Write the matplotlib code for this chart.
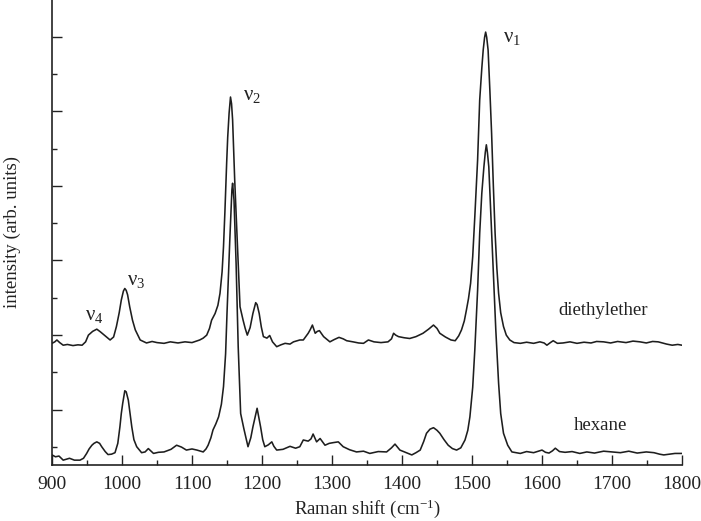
import numpy as np
import matplotlib.pyplot as plt

plt.rcParams['font.family'] = ['Liberation Serif', 'DejaVu Serif']
plt.rcParams['mathtext.fontset'] = 'custom'
plt.rcParams['mathtext.rm'] = 'Liberation Serif'
plt.rcParams['mathtext.it'] = 'Liberation Serif:italic'

# (Raman shift cm-1, intensity arb. units)
ether = [
    (900, 2.78), (904, 2.82), (907, 2.87), (911, 2.80), (916, 2.73), (922, 2.75),
    (930, 2.72), (937, 2.74), (943, 2.73), (948, 2.82), (952, 3.00), (958, 3.10),
    (964, 3.16), (969, 3.09), (976, 2.98), (983, 2.87), (988, 2.95), (992, 3.23),
    (996, 3.60), (999, 3.94), (1002, 4.18), (1004, 4.25), (1006, 4.20), (1008, 4.08),
    (1011, 3.76), (1015, 3.40), (1019, 3.14), (1026, 2.87), (1035, 2.79), (1043, 2.83),
    (1050, 2.80), (1060, 2.78), (1069, 2.82), (1080, 2.79), (1090, 2.82), (1100, 2.80),
    (1111, 2.87), (1116, 2.92), (1121, 3.00), (1125, 3.18), (1128, 3.40), (1133, 3.58),
    (1137, 3.80), (1140, 4.12), (1143, 4.70), (1145, 5.37), (1147, 6.30), (1149.5, 7.61),
    (1151, 8.30), (1153, 8.95), (1155, 9.38), (1156.5, 9.20), (1158, 8.77), (1161, 7.16),
    (1165, 5.37), (1168.6, 3.76), (1173, 3.40), (1176, 3.18), (1179, 3.00), (1183, 3.20),
    (1187, 3.58), (1191, 3.87), (1193, 3.82), (1196, 3.58), (1199, 3.22), (1202, 2.96),
    (1207, 2.92), (1211, 2.99), (1215, 2.82), (1221, 2.69), (1227, 2.74), (1233, 2.78),
    (1240, 2.76), (1245, 2.82), (1254, 2.87), (1259, 2.87), (1266, 3.05), (1269, 3.15),
    (1272, 3.27), (1276, 3.05), (1279, 3.10), (1282, 3.12), (1288, 2.96), (1297, 2.82),
    (1303, 2.88), (1310, 2.94), (1316, 2.90), (1321, 2.85), (1330, 2.82), (1338, 2.79),
    (1345, 2.78), (1352, 2.87), (1360, 2.82), (1370, 2.80), (1380, 2.82), (1385, 2.90),
    (1388, 3.05), (1391, 3.00), (1395, 2.96), (1403, 2.93), (1411, 2.91), (1420, 2.96),
    (1430, 3.05), (1438, 3.16), (1445, 3.27), (1450, 3.18), (1454, 3.05), (1462, 2.95),
    (1470, 2.87), (1476, 2.85), (1481, 2.98), (1485, 3.14), (1489, 3.38), (1492, 3.67),
    (1495, 3.98), (1498, 4.39), (1501, 5.10), (1504, 6.17), (1508, 7.69), (1511, 9.30),
    (1514, 10.15), (1516, 10.64), (1518, 10.98), (1519.5, 11.12), (1521, 10.98),
    (1523, 10.64), (1525.5, 9.57), (1528, 8.41), (1530.5, 7.00), (1533, 5.73),
    (1535.5, 4.80), (1538, 4.12), (1541, 3.60), (1545, 3.23), (1549, 3.00), (1554, 2.87),
    (1560, 2.80), (1569, 2.78), (1578, 2.81), (1588, 2.78), (1597, 2.82), (1603, 2.79),
    (1607, 2.73), (1612, 2.80), (1616, 2.85), (1622, 2.78), (1630, 2.79), (1640, 2.82),
    (1650, 2.78), (1660, 2.81), (1670, 2.79), (1678, 2.83), (1688, 2.82), (1698, 2.79),
    (1708, 2.83), (1720, 2.80), (1730, 2.84), (1740, 2.82), (1749, 2.79), (1758, 2.83),
    (1766, 2.82), (1778, 2.76), (1786, 2.73), (1794, 2.75), (1800, 2.73),
]

hexane = [
    (900, -0.21), (905, -0.26), (910, -0.24), (916, -0.35), (925, -0.30), (932, -0.35),
    (940, -0.35), (945, -0.30), (949.5, -0.17), (953, -0.05), (957, 0.05), (960, 0.10),
    (964, 0.14), (968, 0.10), (971, 0.01), (976, -0.12), (980, -0.20), (985, -0.19),
    (990, -0.15), (994, 0.10), (997, 0.54), (999, 0.90), (1001, 1.17), (1004, 1.51),
    (1006, 1.48), (1009, 1.26), (1011.5, 0.90), (1014, 0.54), (1017, 0.20), (1021, 0.01),
    (1028, -0.15), (1033, -0.13), (1037.6, -0.04), (1045, -0.17), (1052, -0.14),
    (1060, -0.13), (1070, -0.06), (1078, 0.05), (1085, 0.00), (1092, -0.08),
    (1100, -0.05), (1107, -0.08), (1116, -0.13), (1120, -0.05), (1123, 0.05),
    (1127, 0.25), (1130, 0.46), (1134, 0.62), (1138, 0.81), (1142, 1.15), (1145, 1.62),
    (1148, 2.50), (1150, 3.58), (1152, 4.55), (1154, 5.55), (1157, 6.89), (1158, 7.07),
    (1160, 6.62), (1161.5, 5.80), (1163, 4.92), (1166, 2.69), (1169.5, 0.90),
    (1174, 0.50), (1177, 0.25), (1180, 0.01), (1184, 0.25), (1187, 0.54), (1193, 1.04),
    (1198, 0.54), (1201, 0.20), (1204, 0.01), (1209, 0.06), (1214, 0.14), (1217, 0.02),
    (1221, -0.08), (1230, -0.06), (1240, 0.02), (1248, -0.03), (1254, 0.01),
    (1259, 0.19), (1266, 0.16), (1270, 0.22), (1273, 0.35), (1278, 0.14), (1283, 0.23),
    (1290, 0.05), (1296, 0.10), (1302, 0.12), (1309, 0.14), (1316, 0.01), (1325, -0.07),
    (1335, -0.13), (1345, -0.11), (1354, -0.17), (1366, -0.12), (1378, -0.13),
    (1385, -0.02), (1390, 0.08), (1397, -0.08), (1405, -0.14), (1414, -0.21),
    (1420, -0.15), (1426, -0.08), (1431, 0.15), (1435, 0.37), (1440, 0.48), (1445, 0.52),
    (1450, 0.45), (1454, 0.37), (1460, 0.20), (1466, 0.05), (1472, -0.04), (1478, -0.08),
    (1484, -0.02), (1490, 0.19), (1494, 0.45), (1497, 0.81), (1501, 1.60), (1504, 2.60),
    (1508, 4.20), (1511, 5.73), (1514, 6.80), (1517, 7.51), (1519, 7.90), (1520.5, 8.10),
    (1522, 7.90), (1524, 7.51), (1527, 6.20), (1530, 4.83), (1534, 3.14), (1538, 1.71),
    (1541, 0.90), (1545, 0.37), (1551, 0.05), (1557, -0.13), (1563, -0.15), (1569, -0.17),
    (1578, -0.12), (1588, -0.15), (1600, -0.08), (1605, -0.14), (1610, -0.16),
    (1615, -0.10), (1619, -0.03), (1625, -0.12), (1633, -0.14), (1643, -0.12),
    (1654, -0.17), (1664, -0.13), (1675, -0.16), (1688, -0.11), (1700, -0.13),
    (1712, -0.15), (1724, -0.11), (1736, -0.16), (1749, -0.13), (1760, -0.15),
    (1768, -0.19), (1774, -0.21), (1782, -0.19), (1790, -0.17), (1800, -0.17),
]

peak_labels = ['4', '3', '2', '1']
peak_pos = [947, 1007, 1173, 1544]
peak_height = [3.4, 4.35, 9.3, 10.85]

wn_ether, int_ether = zip(*ether)
wn_hexane, int_hexane = zip(*hexane)

fig = plt.figure(figsize=(7.01, 5.21), dpi=100)
ax = fig.add_axes([52 / 701, 56 / 521, 630 / 701, 465 / 521])

line_col = '#1e1e1e'
ax.plot(wn_ether, int_ether, color=line_col, lw=1.15)
ax.plot(wn_hexane, int_hexane, color=line_col, lw=1.15)

ax.set_xlim(900, 1800)
ax.set_ylim(-0.48, 11.98)

ax.set_xticks(np.arange(900, 1801, 100))
ax.set_xticks(np.arange(950, 1800, 100), minor=True)
ax.set_yticks(np.arange(1, 12, 2))
ax.set_yticks(np.arange(0, 11, 2), minor=True)
ax.set_yticklabels([])
ax.tick_params(which='both', direction='in', width=1.0, labelsize=14, pad=8,
               top=False, right=False, colors='#222222')
ax.tick_params(which='major', length=7)
ax.tick_params(which='minor', length=3.5)
for side in ['top', 'right']:
    ax.spines[side].set_visible(False)
for side in ['left', 'bottom']:
    ax.spines[side].set_linewidth(1.2)
    ax.spines[side].set_color('#222222')

ax.set_xlabel(r'Raman shift (cm$^{-1}$)', fontsize=13.5, labelpad=3, color='#222222')
fig.text(12 / 701, 1 - 232 / 521, 'intensity (arb. units)', rotation=90,
         ha='center', va='center', fontsize=13.5, color='#222222')

for lab, xp, yp in zip(peak_labels, peak_pos, peak_height):
    ax.text(xp, yp, r'$\mathrm{\nu}_{' + lab + '}$', fontsize=15, ha='left',
            va='baseline', color='#222222')

ax.text(1688, 3.67, 'diethylether', fontsize=13.5, ha='center', va='center', color='#222222')
ax.text(1683, 0.59, 'hexane', fontsize=13.5, ha='center', va='center', color='#222222')

fig.savefig('out.png', dpi=100)
